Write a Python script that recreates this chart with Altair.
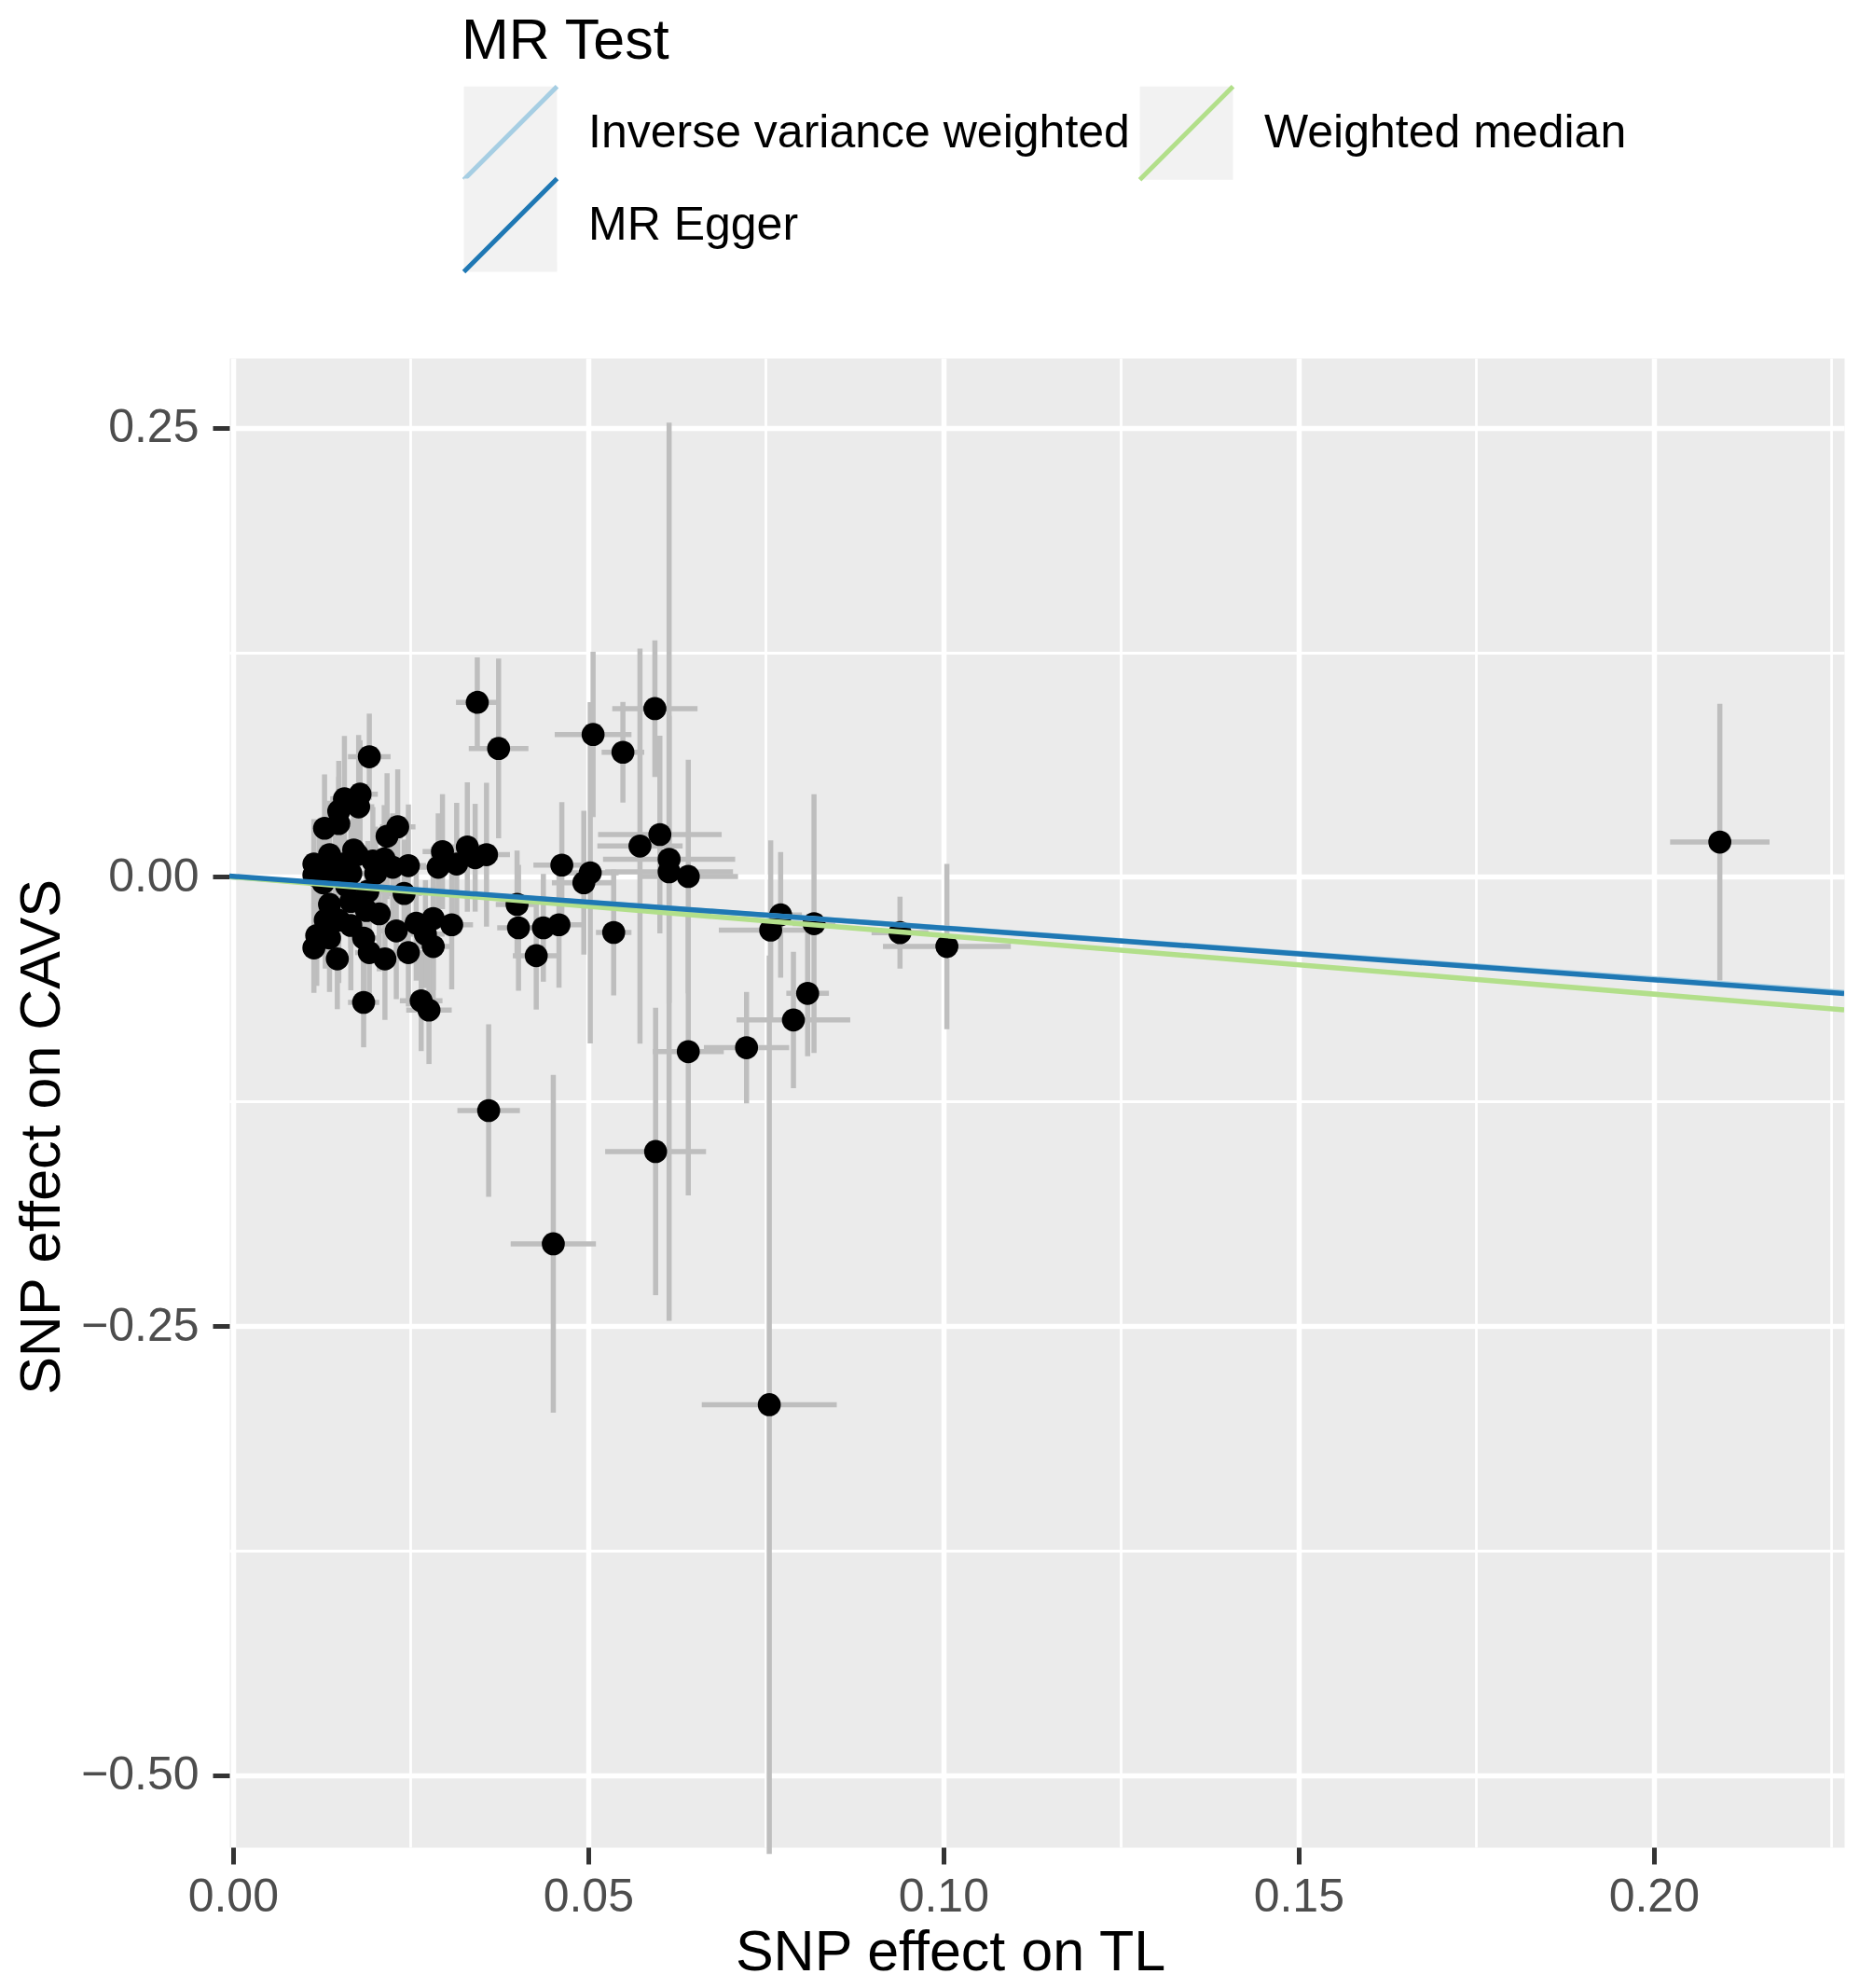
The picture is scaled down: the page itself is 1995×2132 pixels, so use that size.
import altair as alt
import pandas as pd

# SNP effects
snp_x = [0.0192, 0.0179, 0.0157, 0.0149, 0.0177, 0.0129, 0.0149, 0.0232, 0.0217, 0.0114,
         0.0114, 0.0136, 0.0155, 0.0175, 0.0166, 0.0144, 0.0197, 0.0201, 0.0225, 0.0247,
         0.0127, 0.0241, 0.0136, 0.0166, 0.0206, 0.0188, 0.0149, 0.0118, 0.0114, 0.0136,
         0.0166, 0.0184, 0.0147, 0.0192, 0.0214, 0.0230, 0.0247, 0.0258, 0.0282, 0.0308,
         0.0282, 0.0271, 0.0184, 0.0265, 0.0276, 0.0295, 0.0289, 0.0315, 0.0330, 0.0341,
         0.0357, 0.0344, 0.0374, 0.0360, 0.0451, 0.0400, 0.0402, 0.0437, 0.0459, 0.0427,
         0.0463, 0.0503, 0.0494, 0.0507, 0.0549, 0.0594, 0.0573, 0.0601, 0.0614, 0.0614,
         0.0641, 0.0536, 0.0595, 0.0641, 0.0723, 0.0789, 0.0809, 0.0755, 0.0757, 0.0771,
         0.0818, 0.0939, 0.1005, 0.2093, 0.0122, 0.0160, 0.0190, 0.0130, 0.0213, 0.0170]
snp_y = [0.0669, 0.0461, 0.0435, 0.0366, 0.0390, 0.0271, 0.0297, 0.0279, 0.0227, 0.0072,
         0.0011, 0.0124, 0.0072, 0.0124, 0.0020, 0.0010, 0.0089, 0.0020, 0.0054, 0.0063,
         -0.0032, -0.0092, -0.0153, -0.0136, -0.0205, -0.0187, -0.0240, -0.0326, -0.0395, -0.0340,
         -0.0270, -0.0340, -0.0456, -0.0421, -0.0456, -0.0300, -0.0421, -0.0257, -0.0231, -0.0266,
         -0.0387, -0.0318, -0.0698, -0.0689, -0.0741, 0.0141, 0.0054, 0.0072, 0.0167, 0.0107,
         0.0124, 0.0972, 0.0715, -0.1300, -0.2042, -0.0153, -0.0283, -0.0283, -0.0266, -0.0438,
         0.0066, 0.0023, -0.0032, 0.0793, 0.0694, 0.0937, 0.0172, 0.0236, 0.0098, 0.0029,
         0.0003, -0.0309, -0.1528, -0.0972, -0.0950, -0.0796, -0.0648, -0.2937, -0.0296, -0.0211,
         -0.0260, -0.0310, -0.0387, 0.0194, 0.0040, -0.0050, -0.0080, -0.0240, 0.0100, 0.0150]
se_x = [0.0030, 0.0025, 0.0020, 0.0020, 0.0022, 0.0015, 0.0018, 0.0025, 0.0022, 0.0012,
        0.0012, 0.0015, 0.0016, 0.0020, 0.0018, 0.0016, 0.0020, 0.0022, 0.0024, 0.0025,
        0.0014, 0.0025, 0.0015, 0.0018, 0.0022, 0.0020, 0.0016, 0.0013, 0.0012, 0.0015,
        0.0018, 0.0020, 0.0016, 0.0020, 0.0022, 0.0024, 0.0025, 0.0026, 0.0028, 0.0030,
        0.0028, 0.0027, 0.0022, 0.0030, 0.0032, 0.0028, 0.0028, 0.0030, 0.0030, 0.0032,
        0.0033, 0.0030, 0.0042, 0.0044, 0.0060, 0.0030, 0.0030, 0.0035, 0.0035, 0.0033,
        0.0040, 0.0040, 0.0045, 0.0054, 0.0030, 0.0060, 0.0060, 0.0087, 0.0093, 0.0090,
        0.0070, 0.0025, 0.0071, 0.0050, 0.0060, 0.0080, 0.0030, 0.0095, 0.0073, 0.0030,
        0.0030, 0.0040, 0.0090, 0.0070, 0.0013, 0.0017, 0.0020, 0.0014, 0.0022, 0.0018]
se_y = [0.024, 0.030, 0.035, 0.028, 0.040, 0.030, 0.026, 0.032, 0.035, 0.025,
        0.022, 0.030, 0.028, 0.033, 0.030, 0.024, 0.030, 0.026, 0.030, 0.034,
        0.026, 0.030, 0.030, 0.026, 0.032, 0.028, 0.035, 0.028, 0.025, 0.030,
        0.036, 0.032, 0.028, 0.030, 0.034, 0.038, 0.030, 0.032, 0.040, 0.036,
        0.034, 0.030, 0.025, 0.028, 0.030, 0.032, 0.030, 0.034, 0.036, 0.030,
        0.040, 0.025, 0.050, 0.048, 0.094, 0.030, 0.035, 0.030, 0.035, 0.030,
        0.035, 0.095, 0.040, 0.046, 0.028, 0.038, 0.110, 0.055, 0.080, 0.250,
        0.065, 0.035, 0.080, 0.080, 0.031, 0.038, 0.035, 0.250, 0.050, 0.035,
        0.072, 0.020, 0.046, 0.077, 0.022, 0.026, 0.028, 0.027, 0.030, 0.030]

# MR estimates (drawn as ablines)
methods = ["Inverse variance weighted", "Weighted median", "MR Egger"]
method_colors = ["#A6CEE3", "#B2DF8A", "#1F78B4"]
intercepts = [0.0, 0.0, 0.0004]
slopes = [-0.283, -0.326, -0.288]

x_domain = [-0.0005, 0.2268]
y_domain = [-0.540, 0.2888]
x_major = [0.0, 0.05, 0.10, 0.15, 0.20]
x_minor = [0.025, 0.075, 0.125, 0.175, 0.225]
y_major = [-0.50, -0.25, 0.0, 0.25]
y_minor = [-0.375, -0.125, 0.125]

df = pd.DataFrame({"x": snp_x, "y": snp_y, "sx": se_x, "sy": se_y})
df["x_lo"] = df["x"] - df["sx"]
df["x_hi"] = df["x"] + df["sx"]
df["y_lo"] = df["y"] - df["sy"]
df["y_hi"] = df["y"] + df["sy"]

lines = pd.DataFrame({"method": methods, "a": intercepts, "b": slopes})
lines["x0"] = x_domain[0]
lines["x1"] = x_domain[1]
lines["y0"] = lines["a"] + lines["b"] * lines["x0"]
lines["y1"] = lines["a"] + lines["b"] * lines["x1"]

FONT = "Liberation Sans"
xs = alt.Scale(domain=x_domain, nice=False, zero=False)
ys = alt.Scale(domain=y_domain, nice=False, zero=False)

common_axis = dict(
    grid=True, gridColor="white", gridWidth=5.5, domain=False,
    ticks=True, tickSize=18, tickWidth=5, tickColor="#333333",
    labelFont=FONT, labelFontSize=50, labelColor="#4D4D4D",
    labelOverlap=False, labelFlush=False, format=".2f",
    titleFont=FONT, titleFontSize=61, titleFontWeight="normal", titleColor="black",
    titleBaseline="alphabetic",
)

x_axis = alt.Axis(orient="bottom", values=x_major, title="SNP effect on TL",
                  labelPadding=10, titleX=773, titleY=131, titleAlign="center",
                  **common_axis)
y_axis = alt.Axis(orient="left", values=y_major, title="SNP effect on CAVS",
                  labelPadding=15, titleX=-183, titleY=835, titleAngle=270,
                  titleAlign="center", **common_axis)
x_minor_axis = alt.Axis(orient="top", values=x_minor, grid=True, gridColor="white",
                        gridWidth=2.8, labels=False, ticks=False, domain=False, title=None)
y_minor_axis = alt.Axis(orient="right", values=y_minor, grid=True, gridColor="white",
                        gridWidth=2.8, labels=False, ticks=False, domain=False, title=None)

bar_color = "#BEBEBE"

hbar = alt.Chart(df).mark_rule(color=bar_color, strokeWidth=5.5).encode(
    x=alt.X("x_lo:Q", scale=xs, axis=x_axis),
    x2="x_hi:Q",
    y=alt.Y("y:Q", scale=ys, axis=y_axis),
)

vbar = alt.Chart(df).mark_rule(color=bar_color, strokeWidth=5.5).encode(
    x=alt.X("x:Q", scale=xs, axis=x_minor_axis),
    y=alt.Y("y_lo:Q", scale=ys, axis=y_minor_axis),
    y2="y_hi:Q",
)

pts = alt.Chart(df).mark_circle(size=610, color="black", opacity=1).encode(
    x=alt.X("x:Q", scale=xs, axis=None),
    y=alt.Y("y:Q", scale=ys, axis=None),
)

legend_style = dict(
    orient="none", legendX=249, direction="vertical", padding=0,
    symbolType="M-1,1L1,-1L-1,-1L-1,1L1,1L1,-1Z",
    symbolSize=10000, symbolFillColor="#F2F2F2", symbolStrokeWidth=5,
    symbolDash=[141.4, 3000], symbolOffset=0,
    labelOffset=31, columnPadding=0, rowPadding=0,
    labelLimit=1000, labelFont=FONT, labelFontSize=50, labelColor="black",
)

legend_top = alt.Legend(
    title="MR Test", legendY=-369, columns=2, titlePadding=14, titleLimit=1000,
    titleFont=FONT, titleFontSize=61, titleFontWeight="normal", titleColor="black",
    titleAnchor="start", **legend_style,
)
legend_bottom = alt.Legend(title=None, legendY=-195, columns=1, **legend_style)

ablines_main = alt.Chart(lines).transform_filter(
    alt.FieldOneOfPredicate(field="method", oneOf=methods[:2])
).mark_rule(strokeWidth=5.5, clip=True).encode(
    x=alt.X("x0:Q", scale=xs, axis=None),
    x2="x1:Q",
    y=alt.Y("y0:Q", scale=ys, axis=None),
    y2="y1:Q",
    color=alt.Color("method:N", scale=alt.Scale(domain=methods[:2], range=method_colors[:2]),
                    legend=legend_top),
)

abline_egger = alt.Chart(lines).transform_filter(
    alt.FieldOneOfPredicate(field="method", oneOf=methods[2:])
).mark_rule(strokeWidth=5.5, clip=True).encode(
    x=alt.X("x0:Q", scale=xs, axis=None),
    x2="x1:Q",
    y=alt.Y("y0:Q", scale=ys, axis=None),
    y2="y1:Q",
    stroke=alt.Stroke("method:N", scale=alt.Scale(domain=methods[2:], range=method_colors[2:]),
                      legend=legend_bottom),
)

chart = alt.layer(hbar, vbar, pts, ablines_main, abline_egger).properties(
    width=1732, height=1597,
    padding={"left": 238, "top": 376, "right": 9, "bottom": 143},
    autosize=alt.AutoSizeParams(type="none"),
).configure(font=FONT).configure_view(fill="#EBEBEB", stroke="transparent")

chart.save("out.html", embed_options={"renderer": "svg", "actions": False})
